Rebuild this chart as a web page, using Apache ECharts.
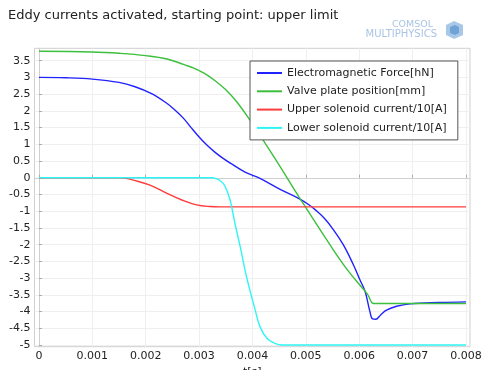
<!DOCTYPE html>
<html>
<head>
<meta charset="utf-8">
<script src="https://cdn.jsdelivr.net/npm/echarts@6/dist/echarts.min.js"></script>
<style>
  html, body { margin: 0; padding: 0; background: #fff; }
  #chart { width: 482px; height: 370px; }
</style>
</head>
<body>
<div id="chart"></div>
<script>
// time values are in milliseconds, the axis labels show seconds
const forceT = [0, 0.5, 1.0, 1.5, 1.8, 2.1, 2.4, 2.55, 2.7, 2.85, 3.0, 3.15, 3.3, 3.45, 3.6, 3.86, 4.14, 4.5, 4.88, 5.05, 5.2, 5.35, 5.5, 5.7, 5.89, 6.01, 6.11, 6.2, 6.25, 6.31, 6.4, 6.51, 6.7, 6.95, 7.5, 8.0];
const forceV = [3.0, 2.99, 2.95, 2.85, 2.72, 2.52, 2.22, 2.02, 1.79, 1.5, 1.22, 0.97, 0.76, 0.58, 0.42, 0.17, -0.02, -0.33, -0.63, -0.8, -0.99, -1.22, -1.52, -2.0, -2.6, -3.04, -3.4, -4.0, -4.22, -4.23, -4.1, -3.96, -3.84, -3.77, -3.73, -3.71];

const valveT = [0, 1.0, 1.5, 2.0, 2.4, 2.72, 2.9, 3.1, 3.3, 3.5, 3.7, 3.95, 4.23, 4.5, 4.89, 5.45, 5.8, 6.15, 6.27, 6.4, 7.0, 8.0];
const valveV = [3.78, 3.76, 3.72, 3.65, 3.55, 3.38, 3.28, 3.12, 2.9, 2.63, 2.28, 1.73, 1.05, 0.38, -0.62, -2.0, -2.8, -3.47, -3.76, -3.76, -3.76, -3.76];

const upperT = [0, 1.5, 1.6, 1.77, 2.08, 2.39, 2.7, 2.95, 3.2, 3.4, 8.0];
const upperV = [0, 0, -0.01, -0.07, -0.22, -0.46, -0.68, -0.81, -0.86, -0.87, -0.87];

const lowerT = [0, 3.25, 3.3, 3.39, 3.48, 3.58, 3.67, 3.77, 3.86, 3.95, 4.05, 4.14, 4.27, 4.42, 4.55, 8.0];
const lowerV = [0, 0, -0.02, -0.08, -0.24, -0.66, -1.36, -2.06, -2.76, -3.35, -3.95, -4.45, -4.8, -4.95, -5.0, -5.0];

const seriesNames = [
  'Electromagnetic Force[hN]',
  'Valve plate position[mm]',
  'Upper solenoid current/10[A]',
  'Lower solenoid current/10[A]'
];
const seriesColors = ['#2222ff', '#3cbf3c', '#ff3b3b', '#2ef5f5'];

const xTicks = [0, 1, 2, 3, 4, 5, 6, 7, 8];
const xTickLabels = ['0', '0.001', '0.002', '0.003', '0.004', '0.005', '0.006', '0.007', '0.008'];
const yTicks = [-5, -4.5, -4, -3.5, -3, -2.5, -2, -1.5, -1, -0.5, 0, 0.5, 1, 1.5, 2, 2.5, 3, 3.5];

const zip = (ts, vs) => ts.map((t, i) => [t, vs[i]]);
const seriesData = [
  zip(forceT, forceV),
  zip(valveT, valveV),
  zip(upperT, upperV),
  zip(lowerT, lowerV)
];

const font = 'DejaVu Sans';
const chart = echarts.init(document.getElementById('chart'));

chart.setOption({
  animation: false,
  backgroundColor: '#fff',
  title: {
    text: 'Eddy currents activated, starting point: upper limit',
    left: 3,
    top: 4,
    textStyle: { fontFamily: font, fontSize: 13, fontWeight: 'normal', color: '#222' }
  },
  legend: {
    orient: 'vertical',
    left: 250,
    top: 61,
    padding: [5, 11, 5, 7],
    itemWidth: 25,
    itemHeight: 2,
    itemGap: 4.3,
    icon: 'rect',
    borderColor: '#555',
    borderWidth: 1,
    backgroundColor: '#fff',
    textStyle: { fontFamily: font, fontSize: 11, color: '#222', lineHeight: 14 },
    data: seriesNames
  },
  grid: {
    left: 34.5, right: 12, top: 48.3, bottom: 23.3,
    outerBoundsMode: 'none',
    show: true, borderColor: '#cfcfcf', borderWidth: 1
  },
  xAxis: {
    type: 'value',
    min: -0.084,
    max: 8.075,
    name: 't[s]',
    nameLocation: 'middle',
    nameGap: 12,
    nameTextStyle: { fontFamily: font, fontSize: 11, color: '#222' },
    axisLine: { lineStyle: { color: '#cfcfcf' } },
    axisTick: { inside: true, length: 3, customValues: xTicks, lineStyle: { color: '#aaa' } },
    axisLabel: {
      customValues: xTicks,
      margin: 4,
      fontFamily: font,
      fontSize: 11,
      color: '#222',
      formatter: (v) => xTickLabels[xTicks.indexOf(Math.round(v))]
    },
    splitLine: { show: true, lineStyle: { color: '#efefef' } }
  },
  yAxis: {
    type: 'value',
    min: -5.05,
    max: 3.87,
    axisLine: { show: true, lineStyle: { color: '#cfcfcf' } },
    axisTick: { show: true, inside: true, length: 3, customValues: yTicks, lineStyle: { color: '#aaa' } },
    axisLabel: {
      customValues: yTicks,
      margin: 4,
      fontFamily: font,
      fontSize: 11,
      color: '#222',
      formatter: (v) => String(Math.round(v * 10) / 10)
    },
    splitLine: { show: true, lineStyle: { color: '#efefef' } }
  },
  graphic: [
    {
      type: 'text', right: 49, top: 20,
      style: { text: 'COMSOL', fontFamily: font, fontSize: 9.5, fill: '#a9c4e2', textAlign: 'right' }
    },
    {
      type: 'text', right: 45, top: 29,
      style: { text: 'MULTIPHYSICS', fontFamily: font, fontSize: 10, fill: '#a9c4e2', textAlign: 'right' }
    },
    {
      type: 'polygon',
      shape: { points: [[446, 25], [454, 21], [463, 25], [463, 35], [454, 39], [446, 35]] },
      style: { fill: '#a9c8e8' }
    },
    {
      type: 'polygon',
      shape: { points: [[450, 27], [455, 25], [459, 27], [459, 33], [455, 35], [450, 33]] },
      style: { fill: '#6fa3d6' }
    }
  ],
  series: seriesNames.map((name, i) => ({
    name,
    type: 'line',
    data: seriesData[i],
    showSymbol: false,
    smooth: 0.4,
    lineStyle: { color: seriesColors[i], width: 1.4 },
    itemStyle: { color: seriesColors[i] }
  }))
});
</script>
</body>
</html>
